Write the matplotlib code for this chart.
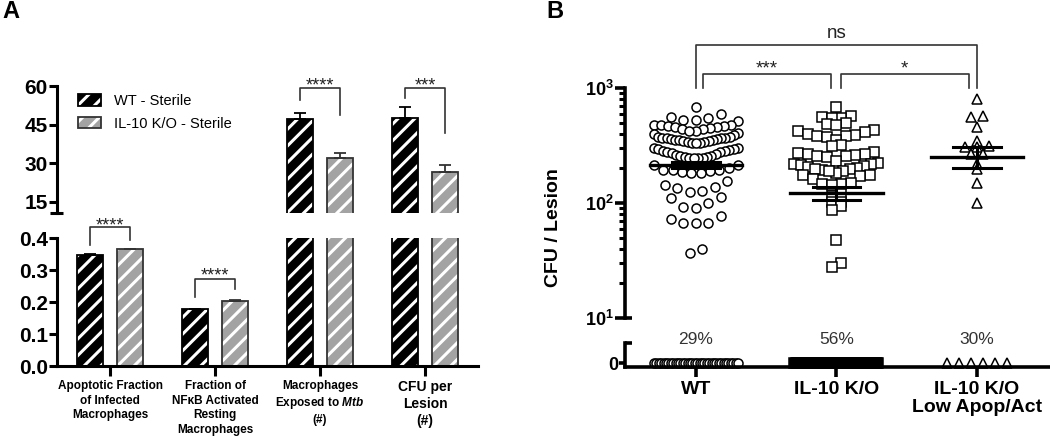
import numpy as np
import matplotlib.pyplot as plt
from matplotlib.patches import Patch
from matplotlib.ticker import NullFormatter

plt.rcParams['font.family'] = 'Liberation Sans'
plt.rcParams['mathtext.fontset'] = 'custom'
plt.rcParams['mathtext.rm'] = 'Liberation Sans:bold'
plt.rcParams['mathtext.bf'] = 'Liberation Sans:bold'
plt.rcParams['mathtext.it'] = 'Liberation Sans:bold:italic'
plt.rcParams['hatch.linewidth'] = 2.2

# ---- datos panel A (barras) ----
categorias = ['Apoptotic Fraction\nof Infected\nMacrophages',
              'Fraction of\nNF\u03baB Activated\nResting\nMacrophages',
              'Macrophages\nExposed to $\\mathit{Mtb}$\n(#)',
              'CFU per\nLesion\n(#)']
wt_media = [0.347, 0.177, 47.2, 47.7]
wt_sem = [0.002, 0.002, 2.2, 4.0]
il10_media = [0.365, 0.204, 32.2, 26.8]
il10_sem = [0.002, 0.001, 1.7, 2.5]
leyenda = ['WT - Sterile', 'IL-10 K/O - Sterile']
signif_a = ['****', '****', '****', '***']

# ---- datos panel B (CFU por lesion) ----
grupos = ['WT', 'IL-10 K/O', 'IL-10 K/O\nLow Apop/Act']
cfu_wt = [689,
          594, 564, 546, 530, 527, 520,
          480, 478, 474, 470, 468, 460, 455, 450, 440, 438, 420, 420, 405, 400, 392,
          372, 372, 370, 368, 366, 364, 362, 358, 356, 352, 350, 346, 344, 340, 338, 334, 334, 330,
          300, 298, 295, 292, 288, 285, 282, 278, 275, 270, 266, 262, 258, 255, 252, 250, 248, 246, 245, 245,
          214, 212, 200, 195, 193, 192, 190, 187, 184, 181,
          155, 144, 139, 134, 128, 125,
          112, 110, 101, 93, 90,
          77, 72, 67, 67, 67,
          40, 37]
cfu_il10 = [689,
            574, 564, 552, 546,
            493, 483, 476,
            431, 423, 412, 396, 390, 385, 385, 378,
            353, 319, 316,
            277, 270, 267, 265, 262, 258, 255, 251,
            232, 222, 220, 217, 214, 210, 205, 200, 195,
            198, 191, 181, 175, 175, 172, 191, 198,
            161, 148, 146, 146, 144,
            120, 115, 103, 103, 94, 87,
            48, 30, 28]
cfu_low = [802, 574, 556, 461, 346, 315, 309, 305, 267, 267, 218, 198, 150, 101]
n_ceros = [36, 74, 6]
porcentaje_ceros = ['29%', '56%', '30%']
media_cfu = [214, 122, 253]
sem_cfu = [12, 15, 52]
marcadores = ['o', 's', '^']

W, H = 1050, 437
fig = plt.figure(figsize=(W / 100, H / 100), dpi=100)


def caja(x0, y0, x1, y1):
    # rectangulo en pixeles (origen arriba a la izquierda) -> fraccion de figura
    return [x0 / W, 1 - y1 / H, (x1 - x0) / W, (y1 - y0) / H]


# ================= Panel A =================
axA_sup = fig.add_axes(caja(57, 86, 478, 213))
axA_inf = fig.add_axes(caja(57, 238, 478, 366))

x = np.arange(len(categorias))
ancho = 0.25
desp = 0.19
gris = '#a3a3a3'
for ax in (axA_sup, axA_inf):
    ax.bar(x - desp, wt_media, ancho, color='black', edgecolor='white', hatch='//', linewidth=0)
    ax.bar(x - desp, wt_media, ancho, fill=False, edgecolor='black', linewidth=1.3)
    ax.bar(x + desp, il10_media, ancho, color=gris, edgecolor='white', hatch='//', linewidth=0)
    ax.bar(x + desp, il10_media, ancho, fill=False, edgecolor='#333333', linewidth=1.3)
    ax.errorbar(x - desp, wt_media, yerr=[np.zeros(4), wt_sem], fmt='none', ecolor='black',
                elinewidth=1.3, capsize=4.5, capthick=1.3)
    ax.errorbar(x + desp, il10_media, yerr=[np.zeros(4), il10_sem], fmt='none', ecolor='#333333',
                elinewidth=1.3, capsize=4.5, capthick=1.3)
    ax.set_xlim(-0.505, 3.505)
    for s in ['top', 'right']:
        ax.spines[s].set_visible(False)
    ax.spines['left'].set_linewidth(2.2)
    ax.spines['bottom'].set_linewidth(2.2)
    ax.tick_params(axis='y', width=2.2, length=5.5, pad=1, labelsize=15)

axA_sup.set_ylim(10.7, 60)
axA_sup.set_yticks([15, 30, 45, 60])
axA_sup.set_yticklabels(['15', '30', '45', '60'], fontweight='bold')
axA_sup.spines['bottom'].set_visible(False)
axA_sup.tick_params(axis='x', bottom=False, labelbottom=False)
axA_sup.plot([-0.017, 0.014], [0, 0], transform=axA_sup.transAxes, color='black', lw=2.2,
             clip_on=False, solid_capstyle='butt')

axA_inf.set_ylim(0, 0.4)
axA_inf.set_yticks([0, 0.1, 0.2, 0.3, 0.4])
axA_inf.set_yticklabels(['0.0', '0.1', '0.2', '0.3', '0.4'], fontweight='bold')
axA_inf.set_xticks(x)
axA_inf.set_xticklabels(categorias, fontsize=8.5, fontweight='bold', linespacing=1.3)
axA_inf.get_xticklabels()[-1].set_fontsize(10)
axA_inf.tick_params(axis='x', width=2.2, length=7, pad=3)

# corchetes de significancia (categoria, altura, pata izq, pata der, base del texto)
corchetes_a = [(axA_inf, 0, 0.434, 0.378, 0.394, 0.425),
               (axA_inf, 1, 0.272, 0.216, 0.241, 0.266),
               (axA_sup, 2, 59.2, 54.6, 48.8, 58.3),
               (axA_sup, 3, 59.2, 55.3, 41.8, 58.3)]
for (ax, i, yb, y1, y2, yt), txt in zip(corchetes_a, signif_a):
    ax.plot([i - desp, i - desp, i + desp, i + desp], [y1, yb, yb, y2], color='#333333', lw=1.2,
            clip_on=False)
    ax.text(i, yt, txt, ha='center', va='baseline', fontsize=13, color='#222222', clip_on=False)

mano = [(Patch(facecolor='black', edgecolor='white', hatch='//', linewidth=0),
         Patch(fill=False, edgecolor='black', linewidth=1.3)),
        (Patch(facecolor=gris, edgecolor='white', hatch='//', linewidth=0),
         Patch(fill=False, edgecolor='#333333', linewidth=1.3))]
axA_sup.legend(mano, leyenda, loc='upper left', bbox_to_anchor=(78 / W, 1 - 94 / H),
               bbox_transform=fig.transFigure, frameon=False, fontsize=10.5,
               handlelength=1.6, handleheight=0.8, handletextpad=0.85, labelspacing=0.6,
               borderpad=0, borderaxespad=0)

fig.text(2 / W, 1 - 18 / H, 'A', fontsize=17, fontweight='bold')

# ================= Panel B =================
axB = fig.add_axes(caja(625, 88, 1050, 318))
axB0 = fig.add_axes(caja(625, 343, 1050, 367))
axB.set_yscale('log')
axB.set_ylim(10, 1000)
axB.set_xlim(-0.505, 2.52)
axB0.set_xlim(-0.505, 2.52)
axB0.set_ylim(-0.2, 1)

for ax in (axB, axB0):
    for s in ['top', 'right']:
        ax.spines[s].set_visible(False)
    ax.spines['left'].set_linewidth(2.6)
    ax.spines['bottom'].set_linewidth(2.6)
axB.spines['bottom'].set_visible(False)
axB.tick_params(axis='x', bottom=False, labelbottom=False)
axB.set_yticks([10, 100, 1000])
axB.set_yticklabels([r'$\mathbf{10^{1}}$', r'$\mathbf{10^{2}}$', r'$\mathbf{10^{3}}$'], fontsize=13)
axB.yaxis.set_minor_formatter(NullFormatter())
axB.tick_params(axis='y', which='major', width=2.6, length=7, pad=1)
axB.tick_params(axis='y', which='minor', width=2.2, length=4.5)
axB.plot([0, 0.016], [0, 0], transform=axB.transAxes, color='black', lw=2.6, clip_on=False,
         solid_capstyle='butt')

axB0.set_yticks([0])
axB0.set_yticklabels(['0'], fontsize=13, fontweight='bold')
axB0.tick_params(axis='y', width=2.6, length=4, pad=1)
axB0.set_xticks(range(3))
axB0.set_xticklabels(grupos, fontsize=14, fontweight='bold', linespacing=1.05)
axB0.tick_params(axis='x', width=2.6, length=7.5, pad=2.5)
axB0.plot([0, 0.016], [1, 1], transform=axB0.transAxes, color='black', lw=2.6, clip_on=False,
          solid_capstyle='butt')


def enjambre(ax, xc, valores, paso=10.0, medio=42.0, fila=11.0, hueco=4.5):
    # agrupa los puntos en filas horizontales (estilo GraphPad), menores al centro
    valores = np.asarray(valores, dtype=float)
    pix = ax.transData.transform(np.column_stack([np.full(len(valores), xc), valores]))
    orden = np.argsort(pix[:, 1])
    filas = []
    for i in orden:
        if filas and pix[i, 1] - pix[filas[-1][0], 1] <= fila and pix[i, 1] - pix[filas[-1][-1], 1] <= hueco:
            filas[-1].append(i)
        else:
            filas.append([i])
    dx = np.zeros(len(valores))
    for idx in filas:
        idx = sorted(idx, key=lambda k: valores[k])
        n = len(idx)
        s = paso if n < 2 else min(paso, 2 * medio / (n - 1))
        lugares = (np.arange(n) - (n - 1) / 2) * s
        lugares = lugares[np.argsort(np.abs(lugares), kind='stable')]
        for k, off in zip(idx, lugares):
            dx[k] = off
    px = pix[:, 0] + dx
    return ax.transData.inverted().transform(np.column_stack([px, pix[:, 1]]))[:, 0]


datos_cfu = [cfu_wt, cfu_il10, cfu_low]
pasos = [12.5, 9.5, 12.0]
for i, (vals, mk, nz) in enumerate(zip(datos_cfu, marcadores, n_ceros)):
    tam = 7 if mk == '^' else 6.5
    xs = enjambre(axB, i, vals, paso=pasos[i])
    axB.plot(xs, vals, linestyle='none', marker=mk, mfc='white', mec='black', mew=1.1,
             ms=tam, zorder=2)
    # fila de ceros: los cuadrados quedan tan encimados que se ven como una barra negra
    ceros = np.zeros(nz)
    xz = np.sort(enjambre(axB0, i, ceros, paso=pasos[i] if mk == '^' else 10.0))
    axB0.plot(xz, ceros, linestyle='none', marker=mk, mfc='black' if mk == 's' else 'white',
              mec='black', mew=1.1, ms=tam, zorder=2, clip_on=False)
    axB0.text(i, 1.2, porcentaje_ceros[i], ha='center', va='center', fontsize=12.5,
              color='#333333', clip_on=False)
    # media y error estandar
    m, s = media_cfu[i], sem_cfu[i]
    axB.plot([i - 0.33, i + 0.33], [m, m], color='black', lw=2.4, zorder=3)
    axB.plot([i - 0.17, i + 0.17], [m + s, m + s], color='black', lw=2.2, zorder=3)
    axB.plot([i - 0.17, i + 0.17], [m - s, m - s], color='black', lw=2.2, zorder=3)
    axB.plot([i, i], [m - s, m + s], color='black', lw=2.2, zorder=3)

# corchetes panel B
corchetes_b = [(0, 2, 2366, 'ns', 2725), (0.05, 0.96, 1323, '***', 1349), (1.03, 1.94, 1323, '*', 1349)]
for x1, x2, yb, txt, yt in corchetes_b:
    axB.plot([x1, x1, x2, x2], [1000, yb, yb, 1000], color='#333333', lw=1.2, clip_on=False)
    axB.text((x1 + x2) / 2, yt, txt, ha='center', va='baseline', fontsize=13.5, color='#222222',
             clip_on=False)

fig.text(553 / W, 1 - 228 / H, 'CFU / Lesion', rotation=90, ha='center', va='center',
         fontsize=14, fontweight='bold')
fig.text(546 / W, 1 - 18 / H, 'B', fontsize=17, fontweight='bold')

fig.savefig('out.png', dpi=100)
